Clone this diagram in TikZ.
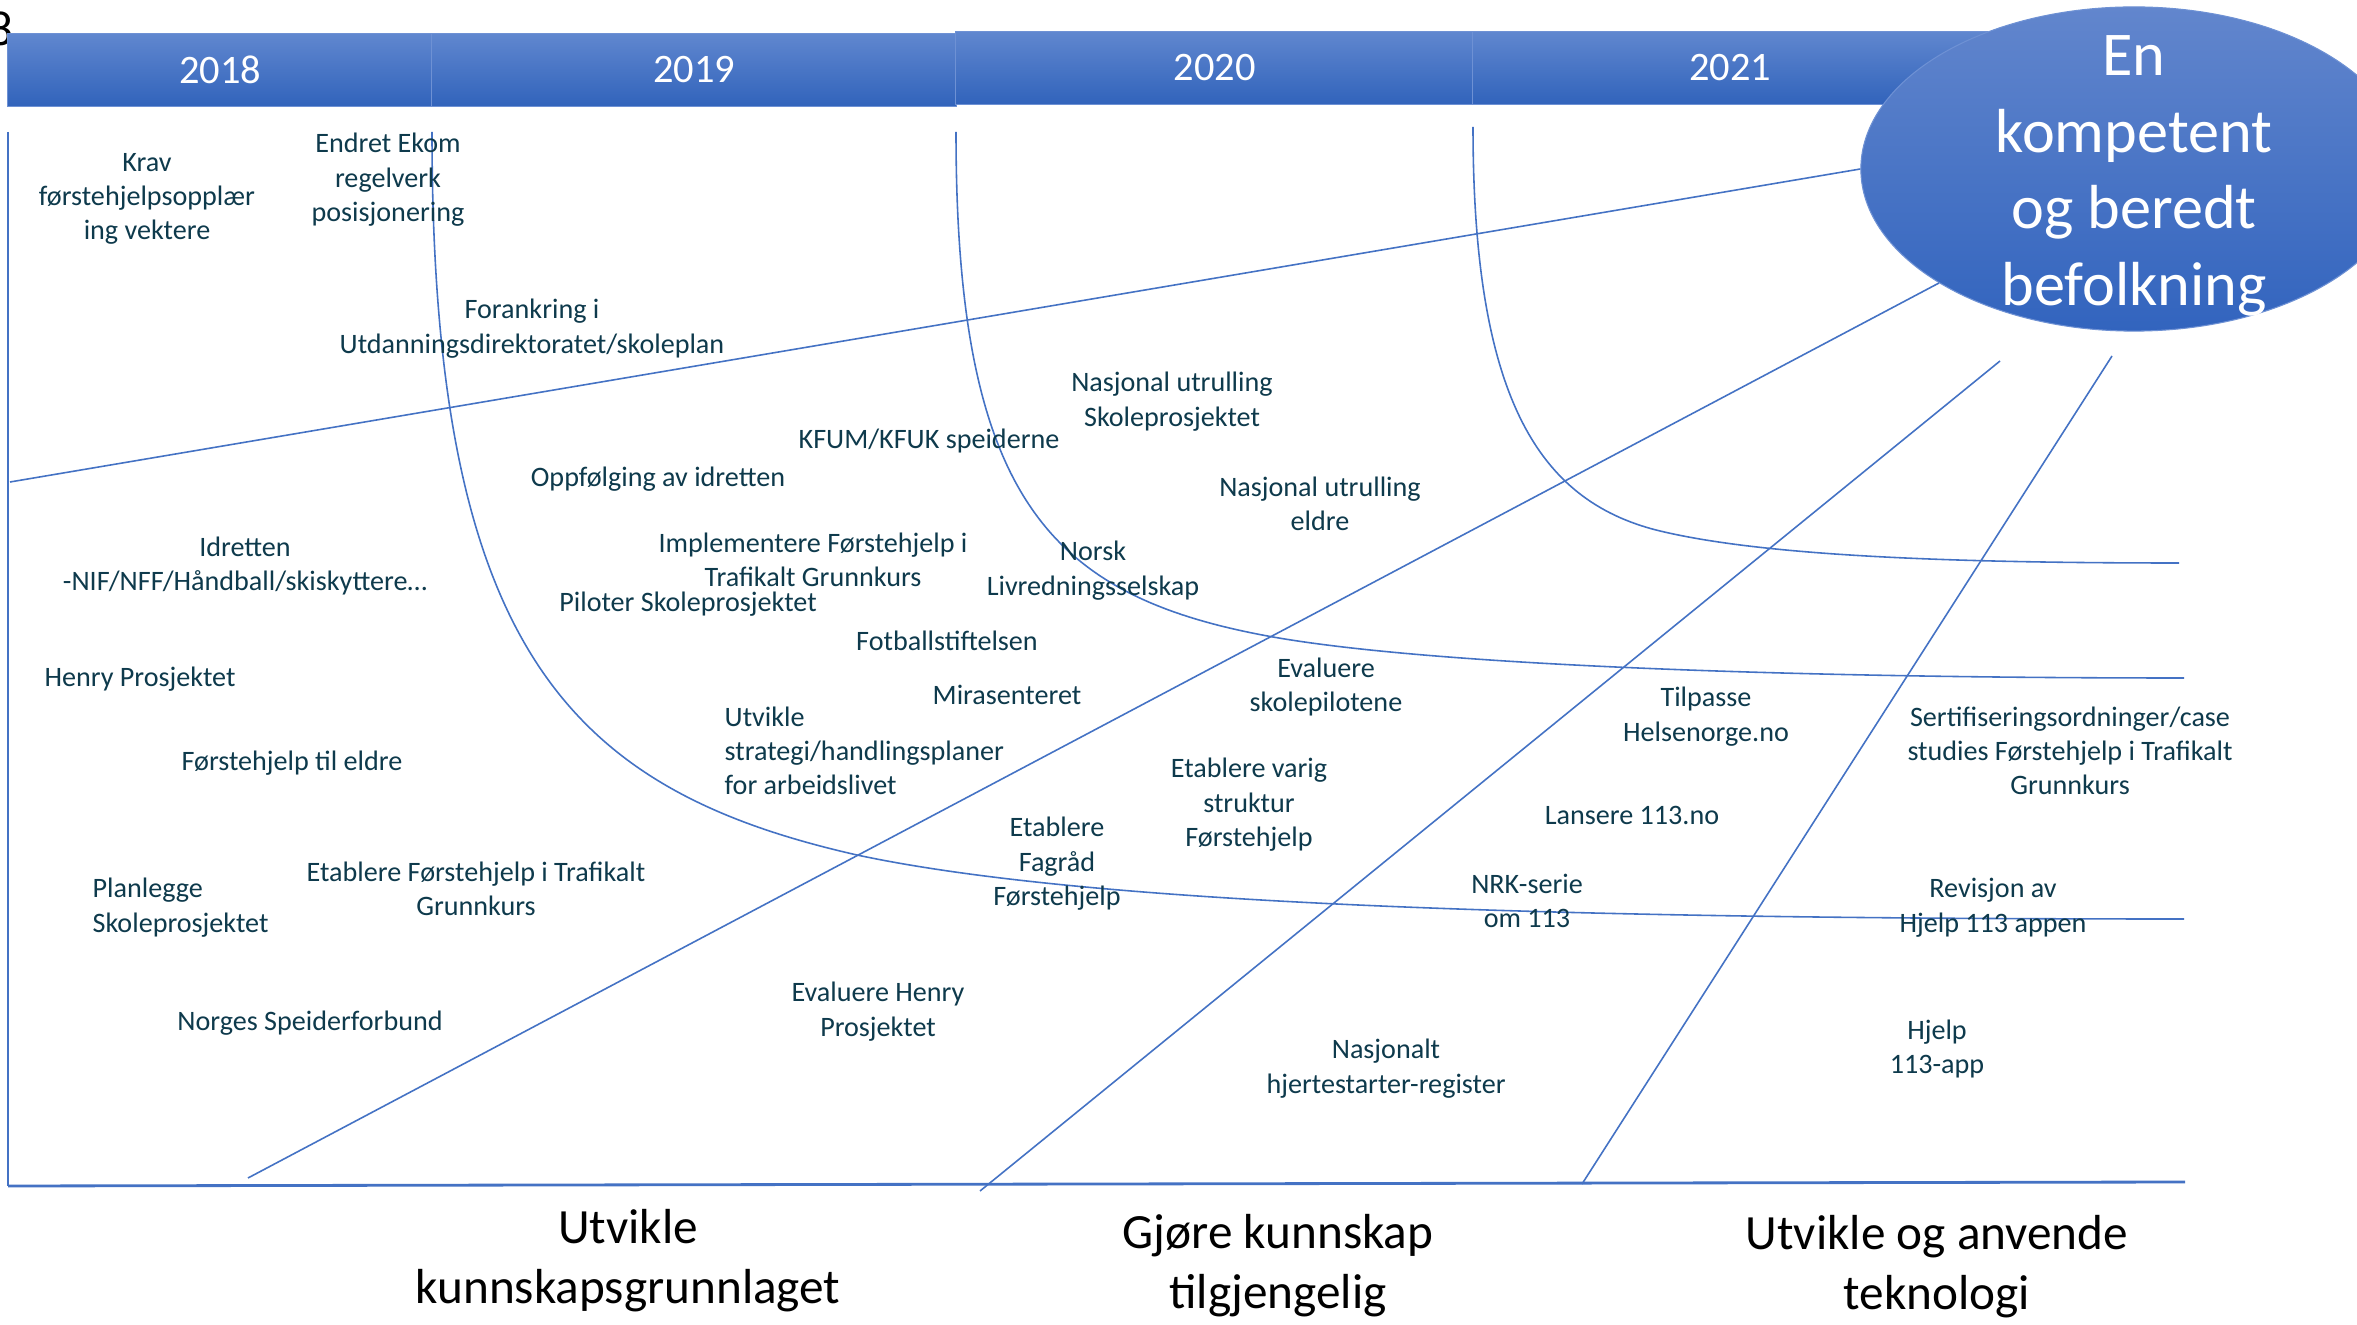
\documentclass[tikz,border=0pt]{standalone}
\usepackage{fontspec}
\setmainfont{Carlito}
\usetikzlibrary{shapes.geometric}
\definecolor{lineblue}{RGB}{68,114,196}
\definecolor{txt}{HTML}{0E3A4C}
\definecolor{bartop}{RGB}{96,135,207}
\definecolor{barbot}{RGB}{49,99,187}
\definecolor{barline}{RGB}{110,145,212}
\begin{document}
\begin{tikzpicture}[x=0.01cm,y=-0.01cm,
  lbl/.style={inner sep=0pt, text=txt, font=\fontsize{8}{9.8}\selectfont, align=center, yshift=-1.1pt},
  lbll/.style={lbl, align=left, anchor=west},
  thinline/.style={draw=lineblue, line width=0.45pt},
  seg/.style={top color=bartop, bottom color=barbot, draw=barline, line width=0.3pt,
    inner sep=0pt, text=white, font=\fontsize{11.5}{14}\selectfont},
  pillar/.style={text=black, font=\fontsize{14}{17}\selectfont, align=center, inner sep=0pt, yshift=-1.5pt}
]
\useasboundingbox (0,0) rectangle (2357,1325);
\fill[white] (0,0) rectangle (2357,1325);

% partial character at the top left corner
\node[inner sep=0pt, font=\fontsize{14}{17}\selectfont] (eight) at (1,29) {8};

% axes
\coordinate (axtop) at (8,132);
\coordinate (axbot) at (8,1186);
\coordinate (axend) at (2185,1182);
\draw[thinline] (axtop) -- (axbot);
\draw[lineblue, line width=0.8pt] (axbot) -- (axend);

% curved dividers
\coordinate (ca0) at (432,132);
\coordinate (ca1) at (857,855);
\coordinate (ca2) at (2184,919);
\draw[thinline] (ca0) .. controls (432,650) and (570,790) .. (ca1)
  .. controls (1100,907) and (1600,919) .. (ca2);
\coordinate (cb0) at (956,132);
\coordinate (cb1) at (1273,637);
\coordinate (cb2) at (2184,678);
\draw[thinline] (cb0) .. controls (956,500) and (1050,597) .. (cb1)
  .. controls (1420,663) and (1750,678) .. (cb2);
\coordinate (cc0) at (1473,127);
\coordinate (cc1) at (1656,530);
\coordinate (cc2) at (2179,563);
\draw[thinline] (cc0) .. controls (1473,400) and (1540,500) .. (cc1)
  .. controls (1760,556) and (1950,563) .. (cc2);

% timeline bar
\node[seg, minimum width=4.24cm, minimum height=0.73cm] (y2018) at (220,70) {2018};
\node[seg, minimum width=5.24cm, minimum height=0.73cm] (y2019) at (694,70) {2019};
\node[seg, minimum width=5.17cm, minimum height=0.73cm] (y2020) at (1214.5,68) {2020};
\node[seg, minimum width=5.14cm, minimum height=0.73cm] (y2021) at (1730,68) {2021};

% goal ellipse
\node[ellipse, minimum width=5.46cm, minimum height=3.24cm, inner sep=0pt,
  top color={rgb,255:red,98;green,134;blue,205}, bottom color={rgb,255:red,50;green,100;blue,190},
  draw=barline, line width=0.3pt] (goal) at (2134,169) {};
\node[text=white, font=\fontsize{17.7}{21.8}\selectfont, align=center, inner sep=0pt] (goaltxt) at (2134,176) {En\\kompetent\\og beredt\\befolkning};

% diagonal lines
\coordinate (t1) at (10,482);
\draw[thinline] (t1) -- (goal.west);
\coordinate (d1s) at (1939,283);
\coordinate (d1e) at (248,1178);
\draw[thinline] (d1s) -- (d1e);
\coordinate (d2s) at (2000,361);
\coordinate (d2e) at (980,1191);
\draw[thinline] (d2s) -- (d2e);
\coordinate (d3s) at (2112,356);
\coordinate (d3e) at (1582,1184);
\draw[thinline] (d3s) -- (d3e);

% activity labels
\node[lbl] (krav) at (147,195) {Krav\\førstehjelpsopplær\\ing vektere};
\node[lbl] (ekom) at (388,176) {Endret Ekom\\regelverk\\posisjonering};
\node[lbl] (forank) at (532,325) {Forankring i\\Utdanningsdirektoratet/skoleplan};
\node[lbl] (nasskole) at (1172,398) {Nasjonal utrulling\\Skoleprosjektet};
\node[lbl] (kfum) at (929,437) {KFUM/KFUK speiderne};
\node[lbl] (oppf) at (658,475) {Oppfølging av idretten};
\node[lbl] (naseldre) at (1320,500) {Nasjonal utrulling\\eldre};
\node[lbl] (idretten) at (245,562) {Idretten\\-NIF/NFF/Håndball/skiskyttere…};
\node[lbl] (impl) at (813,556) {Implementere Førstehjelp i\\Trafikalt Grunnkurs};
\node[lbl] (norsk) at (1093,567) {Norsk\\Livredningsselskap};
\node[lbl] (piloter) at (688,600) {Piloter Skoleprosjektet};
\node[lbl] (fotball) at (947,637) {Fotballstiftelsen};
\node[lbl] (henry) at (140,675) {Henry Prosjektet};
\node[lbl] (evalskole) at (1326,683) {Evaluere\\skolepilotene};
\node[lbl] (mira) at (1007,691) {Mirasenteret};
\node[lbl] (tilpasse) at (1706,713) {Tilpasse\\Helsenorge.no};
\node[lbl] (sert) at (2070,747) {Sertifiseringsordninger/case\\studies Førstehjelp i Trafikalt\\Grunnkurs};
\node[lbll] (strategi) at (724,747) {Utvikle\\strategi/handlingsplaner\\for arbeidslivet};
\node[lbl] (eldre) at (292,759) {Førstehjelp til eldre};
\node[lbl] (varig) at (1249,801) {Etablere varig\\struktur\\Førstehjelp};
\node[lbl] (lansere) at (1632,812) {Lansere 113.no};
\node[lbl] (fagrad) at (1057,860) {Etablere\\Fagråd\\Førstehjelp};
\node[lbl] (etabl) at (476,885) {Etablere Førstehjelp i Trafikalt\\Grunnkurs};
\node[lbll] (planl) at (92,904) {Planlegge\\Skoleprosjektet};
\node[lbl] (nrk) at (1527,897) {NRK-serie\\om 113};
\node[lbl] (revisjon) at (1993,904) {Revisjon av\\Hjelp 113 appen};
\node[lbl] (evalhenry) at (878,1008) {Evaluere Henry\\Prosjektet};
\node[lbl] (speider) at (310,1019) {Norges Speiderforbund};
\node[lbl] (hjerte) at (1386,1065) {Nasjonalt\\hjertestarter-register};
\node[lbl] (app) at (1937,1045) {Hjelp\\113-app};

% pillars
\node[pillar] (p1) at (628,1255) {Utvikle\\kunnskapsgrunnlaget};
\node[pillar] (p2) at (1278,1260) {Gjøre kunnskap\\tilgjengelig};
\node[pillar] (p3) at (1937,1261) {Utvikle og anvende\\teknologi};
\end{tikzpicture}
\end{document}
